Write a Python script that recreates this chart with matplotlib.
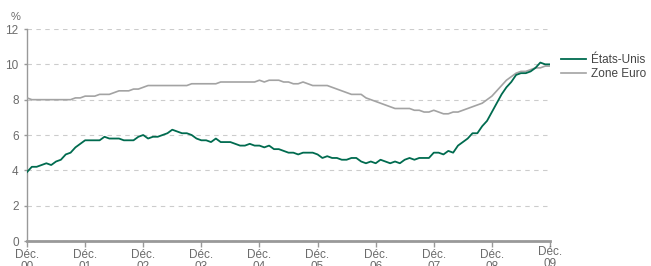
import matplotlib.pyplot as plt
import numpy as np

# mensuel, déc. 2000 -> déc. 2009
us_values = [3.9,
             4.2, 4.2, 4.3, 4.4, 4.3, 4.5, 4.6, 4.9, 5.0, 5.3, 5.5, 5.7,
             5.7, 5.7, 5.7, 5.9, 5.8, 5.8, 5.8, 5.7, 5.7, 5.7, 5.9, 6.0,
             5.8, 5.9, 5.9, 6.0, 6.1, 6.3, 6.2, 6.1, 6.1, 6.0, 5.8, 5.7,
             5.7, 5.6, 5.8, 5.6, 5.6, 5.6, 5.5, 5.4, 5.4, 5.5, 5.4, 5.4,
             5.3, 5.4, 5.2, 5.2, 5.1, 5.0, 5.0, 4.9, 5.0, 5.0, 5.0, 4.9,
             4.7, 4.8, 4.7, 4.7, 4.6, 4.6, 4.7, 4.7, 4.5, 4.4, 4.5, 4.4,
             4.6, 4.5, 4.4, 4.5, 4.4, 4.6, 4.7, 4.6, 4.7, 4.7, 4.7, 5.0,
             5.0, 4.9, 5.1, 5.0, 5.4, 5.6, 5.8, 6.1, 6.1, 6.5, 6.8, 7.3,
             7.8, 8.3, 8.7, 9.0, 9.4, 9.5, 9.5, 9.6, 9.8, 10.1, 10.0, 10.0]
euro_values = [8.1,
               8.0, 8.0, 8.0, 8.0, 8.0, 8.0, 8.0, 8.0, 8.0, 8.1, 8.1, 8.2,
               8.2, 8.2, 8.3, 8.3, 8.3, 8.4, 8.5, 8.5, 8.5, 8.6, 8.6, 8.7,
               8.8, 8.8, 8.8, 8.8, 8.8, 8.8, 8.8, 8.8, 8.8, 8.9, 8.9, 8.9,
               8.9, 8.9, 8.9, 9.0, 9.0, 9.0, 9.0, 9.0, 9.0, 9.0, 9.0, 9.1,
               9.0, 9.1, 9.1, 9.1, 9.0, 9.0, 8.9, 8.9, 9.0, 8.9, 8.8, 8.8,
               8.8, 8.8, 8.7, 8.6, 8.5, 8.4, 8.3, 8.3, 8.3, 8.1, 8.0, 7.9,
               7.8, 7.7, 7.6, 7.5, 7.5, 7.5, 7.5, 7.4, 7.4, 7.3, 7.3, 7.4,
               7.3, 7.2, 7.2, 7.3, 7.3, 7.4, 7.5, 7.6, 7.7, 7.8, 8.0, 8.2,
               8.5, 8.8, 9.1, 9.3, 9.5, 9.6, 9.6, 9.7, 9.8, 9.8, 9.9, 9.9]
tick_labels = ['Déc.\n00', 'Déc.\n01', 'Déc.\n02', 'Déc.\n03', 'Déc.\n04',
               'Déc.\n05', 'Déc.\n06', 'Déc.\n07', 'Déc.\n08', 'Déc.\n09']

plt.rcParams['font.family'] = ['Liberation Sans', 'DejaVu Sans']

months = np.arange(len(us_values))
green = '#006b4f'
grey = '#a3a3a3'
axis_col = '#999999'
text_col = '#6b6b6b'

fig = plt.figure(figsize=(6.51, 2.66), dpi=100)
ax = fig.add_axes([27 / 651, 25 / 266, 523 / 651, 212 / 266])

ax.plot(months, euro_values, color=grey, lw=1.2, label='Zone Euro', zorder=3)
ax.plot(months, us_values, color=green, lw=1.3, label='États-Unis', zorder=4)

ax.set_xlim(0, 108)
ax.set_ylim(0, 12)
ax.set_yticks(np.arange(0, 13, 2))
ax.set_xticks(np.arange(0, 109, 12))
ax.set_xticklabels(tick_labels, linespacing=1.0)

ax.yaxis.grid(True, color='#cccccc', ls=(0, (4, 4)), lw=0.8)
ax.set_axisbelow(True)

for s in ['top', 'right']:
    ax.spines[s].set_visible(False)
ax.spines['left'].set_color(axis_col)
ax.spines['left'].set_linewidth(1.0)
ax.spines['bottom'].set_color(axis_col)
ax.spines['bottom'].set_linewidth(2.0)

ax.tick_params(axis='x', colors=axis_col, labelcolor=text_col, labelsize=8.5,
               length=4, width=1, pad=2)
ax.tick_params(axis='y', colors=axis_col, labelcolor=text_col, labelsize=8.5,
               length=2, width=1, pad=4)
ax.xaxis.get_majorticklabels()[-1].set_y(0.015)

fig.text(11 / 651, 1 - 17 / 266, '%', color=text_col, fontsize=8, va='center')

handles, labels = ax.get_legend_handles_labels()
leg = ax.legend(handles[::-1], labels[::-1], loc='upper left',
                bbox_to_anchor=(556 / 651, 1 - 49 / 266),
                bbox_transform=fig.transFigure, frameon=False,
                fontsize=8.5, handlelength=2.1, handletextpad=0.45,
                labelspacing=0.2, borderaxespad=0)
for t in leg.get_texts():
    t.set_color('#444444')

fig.savefig('out.png', dpi=100)
